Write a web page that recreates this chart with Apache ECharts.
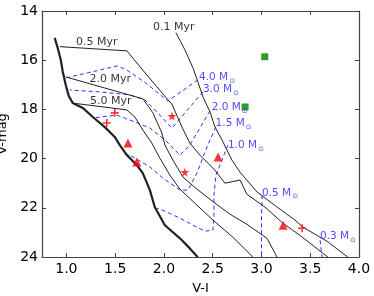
<!DOCTYPE html>
<html><head><meta charset="utf-8">
<script src="https://cdn.jsdelivr.net/npm/echarts@6/dist/echarts.min.js"></script>
<style>html,body{margin:0;padding:0;background:#fff}#c{width:374px;height:296px}</style>
</head><body><div id="c"></div>
<script>
// Isochrones (V-I, V)
const zams = [[0.880,15.09],[0.911,15.50],[0.942,15.98],[0.963,16.47],[0.993,17.00],[1.024,17.45],[1.065,17.74],[1.168,17.94],[1.271,18.31],[1.394,18.72],[1.496,19.12],[1.548,19.45],[1.620,19.86],[1.722,20.26],[1.783,20.59],[1.856,21.28],[1.907,21.98],[2.010,22.71],[2.164,23.24],[2.266,23.65],[2.348,24.01]];
const iso01 = [[2.123,14.88],[2.215,15.58],[2.297,16.31],[2.348,16.88],[2.400,17.49],[2.472,18.10],[2.523,18.71],[2.595,19.24],[2.697,20.06],[2.780,20.55],[2.955,21.36],[3.160,21.97],[3.344,22.50],[3.426,22.79],[3.672,23.36],[3.887,24.01]];
const iso05 = [[0.932,15.45],[1.620,15.62],[1.825,16.60],[2.041,17.61],[2.082,17.78],[2.184,18.71],[2.266,19.37],[2.369,19.86],[2.523,20.47],[2.626,21.00],[2.780,20.87],[2.851,21.45],[3.036,21.97],[3.221,22.63],[3.395,23.12],[3.682,24.01]];
const iso20 = [[0.993,16.68],[1.784,17.57],[1.887,18.14],[1.979,18.96],[2.010,19.45],[2.092,20.06],[2.195,20.75],[2.338,21.24],[2.523,21.81],[2.677,22.26],[2.851,22.67],[3.057,23.24],[3.160,24.01]];
const iso50 = [[1.055,17.74],[1.620,18.02],[1.702,18.31],[1.784,18.84],[1.876,19.37],[1.958,19.98],[2.061,20.67],[2.164,21.24],[2.338,21.89],[2.503,22.50],[2.708,23.20],[2.913,24.01]];
// Mass tracks
const m40 = [[2.348,16.80],[2.041,17.66],[1.825,16.96],[1.630,16.43],[1.527,16.23],[0.993,16.72]];
const m30 = [[2.400,17.29],[2.082,18.76],[1.958,18.23],[1.804,17.61],[1.650,17.41],[1.342,17.29],[1.034,17.21]];
const m20 = [[2.472,18.06],[2.266,19.45],[2.164,19.86],[2.010,19.24],[1.856,18.76],[1.702,18.51],[1.517,18.23],[1.271,18.35]];
const m15 = [[2.533,18.71],[2.441,19.53],[2.338,20.59],[2.246,21.28],[2.164,21.28],[1.989,20.79],[1.856,20.34],[1.650,19.86],[1.568,19.77]];
const m10 = [[2.656,19.45],[2.595,20.06],[2.533,20.67],[2.513,21.49],[2.513,22.30],[2.503,22.91],[2.420,22.95],[2.318,22.75],[2.164,22.42],[1.989,22.10],[1.928,22.02]];
const m05 = [[3.006,21.49],[3.000,22.50],[3.000,24.00]];
const m03 = [[3.601,23.32],[3.621,24.00]];
// Stars
const plusPts = [[1.496,18.14],[1.414,18.55],[3.417,22.83]];
const triPts = [[1.631,19.37],[1.722,20.14],[2.555,19.94],[3.222,22.71]];
const starPts = [[2.082,18.27],[2.214,20.55]];
const sqPts = [[3.034,15.86],[2.832,17.90]];
// Labels
const isoLabels = [['0.1 Myr',2.102,14.64],['0.5 Myr',1.312,15.25],['2.0 Myr',1.450,16.78],['5.0 Myr',1.455,17.66]];
const massLabels = [['4.0',2.36,16.70],['3.0',2.40,17.19],['2.0',2.49,17.92],['1.5',2.53,18.57],['1.0',2.656,19.47],['0.5',3.006,21.39],['0.3',3.60,23.16]];
const xTicks = [1.0,1.5,2.0,2.5,3.0,3.5,4.0];
const yTicks = [14,16,18,20,22,24];

const F = 'DejaVu Sans';
const chart = echarts.init(document.getElementById('c'), null, {renderer:'canvas'});
const axLine = {show:true, lineStyle:{color:'#444', width:1.2}};
const tick = {show:true, inside:true, length:4, lineStyle:{color:'#444', width:1}};
function iso(d, w){return {type:'line', data:d, showSymbol:false, silent:true, lineStyle:{color:'#222', width:w}, z:3};}
function trk(d){return {type:'line', data:d, showSymbol:false, silent:true, lineStyle:{color:'#3030ff', width:1, type:[4,3]}, z:2};}
const plusPath = 'path://M4,0H6V4H10V6H6V10H4V6H0V4H4Z';
const starPath = 'path://M50,0L61,35H98L68,57L79,91L50,70L21,91L32,57L2,35H39Z';
chart.setOption({
  animation:false,
  grid:{left:42, right:15, top:11, bottom:39, outerBoundsMode:'none', containLabel:false},
  xAxis:[{type:'value', min:0.75, max:4.0, position:'bottom',
    name:'V-I', nameLocation:'middle', nameGap:25, nameTextStyle:{fontFamily:F, fontSize:13, color:'#000'},
    axisLine:axLine, axisTick:Object.assign({customValues:xTicks}, tick), splitLine:{show:false},
    axisLabel:{customValues:xTicks, margin:5, fontFamily:F, fontSize:14, color:'#000', formatter:v=>v.toFixed(1)}},
   {type:'value', min:0.75, max:4.0, position:'top', axisLine:axLine, axisTick:Object.assign({customValues:xTicks}, tick), axisLabel:{show:false}, splitLine:{show:false}}],
  yAxis:[{type:'value', min:14, max:24, interval:2, inverse:true, position:'left',
    name:'V-mag', nameLocation:'middle', nameGap:30, nameTextStyle:{fontFamily:F, fontSize:13, color:'#000'},
    axisLine:axLine, axisTick:tick, splitLine:{show:false},
    axisLabel:{margin:4, fontFamily:F, fontSize:14, color:'#000'}},
   {type:'value', min:14, max:24, interval:2, inverse:true, position:'right', axisLine:axLine, axisTick:tick, axisLabel:{show:false}, splitLine:{show:false}}],
  series:[
    iso(zams,2.2), iso(iso01,1), iso(iso05,1), iso(iso20,1), iso(iso50,1),
    trk(m40), trk(m30), trk(m20), trk(m15), trk(m10), trk(m05), trk(m03),
    {type:'scatter', data:plusPts, symbol:plusPath, symbolSize:8, itemStyle:{color:'red'}, z:5},
    {type:'scatter', data:triPts, symbol:'triangle', symbolSize:9, itemStyle:{color:'red'}, z:5},
    {type:'scatter', data:starPts, symbol:starPath, symbolSize:9, itemStyle:{color:'red'}, z:5},
    {type:'scatter', data:sqPts, symbol:'rect', symbolSize:7, itemStyle:{color:'#008000'}, z:5},
    {type:'scatter', data:isoLabels.map(a=>({value:[a[1],a[2]], name:a[0]})), symbolSize:0, z:6,
      label:{show:true, position:'inside', formatter:p=>p.name, fontFamily:F, fontSize:11, color:'#000'}},
    {type:'scatter', data:massLabels.map(a=>({value:[a[1],a[2]], name:a[0]})), symbolSize:0, z:6,
      label:{show:true, position:'right', distance:0, formatter:p=>'{a|'+p.name+' M}{s|\u2299}',
        rich:{a:{fontFamily:F, fontSize:10.5, color:'#2020ff'}, s:{fontFamily:F, fontSize:7, color:'#2020ff', padding:[7,0,0,1]}}}}
  ]
});
</script></body></html>
